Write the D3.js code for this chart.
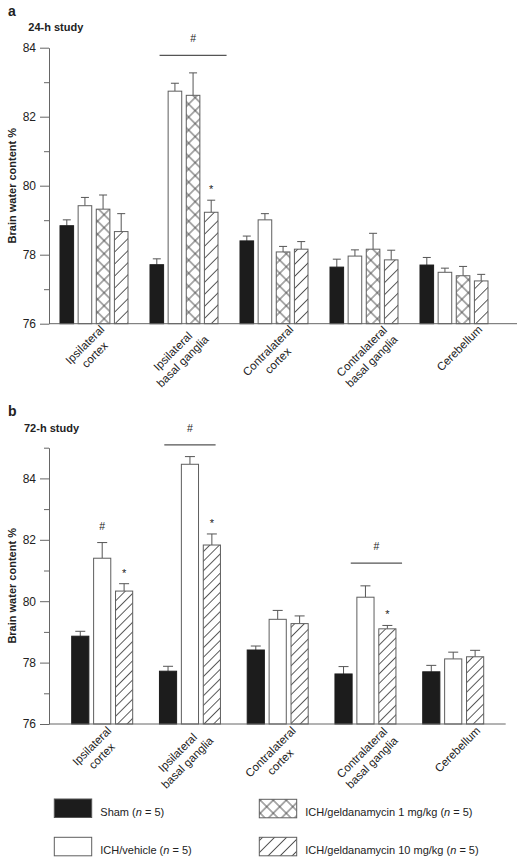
<!DOCTYPE html>
<html><head><meta charset="utf-8">
<script src="https://cdn.jsdelivr.net/npm/d3@7"></script>
<style>
body{margin:0;background:#fff;}
svg text{font-family:"Liberation Sans", Arial, Helvetica, sans-serif;fill:#222;}
</style></head><body>
<svg id="chart" width="525" height="864"></svg>
<script>
// ---------- data ----------
const categories = [["Ipsilateral","cortex"],["Ipsilateral","basal ganglia"],["Contralateral","cortex"],["Contralateral","basal ganglia"],["Cerebellum"]];
const seriesKeys = ["sham","vehicle","gel1","gel10"];
const seriesNames = ["Sham","ICH/vehicle","ICH/geldanamycin 1 mg/kg","ICH/geldanamycin 10 mg/kg"];
const seriesN = [5,5,5,5];

// 24-h study (panel a)
const sham24     = [78.84, 77.71, 78.40, 77.64, 77.70];
const vehicle24  = [79.42, 82.74, 79.01, 77.96, 77.49];
const gel1_24    = [79.32, 82.62, 78.08, 78.16, 77.39];
const gel10_24   = [78.67, 79.23, 78.16, 77.85, 77.24];
const shamErr24    = [0.17, 0.17, 0.14, 0.23, 0.22];
const vehicleErr24 = [0.24, 0.23, 0.18, 0.18, 0.12];
const gel1Err24    = [0.41, 0.65, 0.16, 0.46, 0.27];
const gel10Err24   = [0.52, 0.35, 0.22, 0.28, 0.19];

// 72-h study (panel b)
const sham72     = [78.86, 77.72, 78.41, 77.63, 77.70];
const vehicle72  = [81.40, 84.46, 79.41, 80.13, 78.12];
const gel10_72   = [80.33, 81.83, 79.27, 79.10, 78.19];
const shamErr72    = [0.16, 0.16, 0.13, 0.24, 0.21];
const vehicleErr72 = [0.51, 0.25, 0.29, 0.37, 0.22];
const gel10Err72   = [0.24, 0.36, 0.25, 0.11, 0.21];

const yMajor24 = [76, 78, 80, 82, 84];
const yMinor24 = [77, 79, 81, 83];
const yMajor72 = [76, 78, 80, 82, 84];
const yMinor72 = [77, 79, 81, 83, 85];

// significance symbols
const marks24 = [{group:1, series:"gel10", symbol:"*"}];
const brackets24 = [{group:1, from:"vehicle", to:"gel10", level:83.78, symbol:"#"}];
const marks72 = [
  {group:0, series:"vehicle", symbol:"#"},
  {group:0, series:"gel10", symbol:"*"},
  {group:1, series:"gel10", symbol:"*"},
  {group:3, series:"gel10", symbol:"*"}
];
const brackets72 = [
  {group:1, from:"sham", to:"gel10", level:85.09, symbol:"#"},
  {group:3, from:"vehicle", to:"gel10", level:81.24, symbol:"#"}
];

// ---------- drawing ----------
const svg = d3.select("#chart");
const AX = "#666", BAR_STROKE = "#5e5e5e", BLACK = "#1c1c1c";
const defs = svg.append("defs");

function hatchPattern(id, s, cross){
  const p = defs.append("pattern").attr("id", id)
    .attr("patternUnits","userSpaceOnUse").attr("width", s).attr("height", s)
    .attr("patternTransform","rotate(45)");
  p.append("rect").attr("width", s).attr("height", s).attr("fill","#fff");
  p.append("line").attr("x1", s/2).attr("x2", s/2).attr("y1", 0).attr("y2", s)
    .attr("stroke","#4a4a4a").attr("stroke-width",0.9);
  if (cross) p.append("line").attr("y1", s/2).attr("y2", s/2).attr("x1", 0).attr("x2", s)
    .attr("stroke","#4a4a4a").attr("stroke-width",0.9);
}
hatchPattern("cross", 9.2, true);
hatchPattern("hatchA", 8.5, false);
hatchPattern("hatchB", 6.8, false);
hatchPattern("hatchL", 8.5, false);
hatchPattern("crossL", 9.2, true);

function fillFor(key, hatchId, crossId){
  if (key === "sham") return BLACK;
  if (key === "vehicle") return "#fff";
  if (key === "gel1") return `url(#${crossId})`;
  return `url(#${hatchId})`;
}

function drawPanel(cfg){
  const g = svg.append("g");
  const y = d3.scaleLinear().domain(cfg.yDomain).range(cfg.yRange);
  const xG = d3.scaleBand().domain(d3.range(categories.length)).range(cfg.groupRange)
    .paddingInner(cfg.groupPad).paddingOuter(0);
  const xS = d3.scaleBand().domain(cfg.keys).range([0, xG.bandwidth()]).paddingInner(cfg.innerPad).paddingOuter(0);
  const rows = [];
  cfg.keys.forEach((k, si) => {
    cfg.means[si].forEach((v, gi) => rows.push({key:k, group:gi, value:v, err:cfg.errs[si][gi]}));
  });
  const bx = d => xG(d.group) + xS(d.key);
  const bw = xS.bandwidth();

  // error bars (drawn behind bars' tops)
  const eg = g.append("g").attr("stroke","#555").attr("stroke-width",1);
  eg.selectAll("line.v").data(rows).join("line")
    .attr("x1", d => bx(d) + bw/2).attr("x2", d => bx(d) + bw/2)
    .attr("y1", d => y(d.value)).attr("y2", d => y(d.value + d.err));
  eg.selectAll("line.c").data(rows).join("line")
    .attr("x1", d => bx(d) + bw/2 - cfg.capW/2).attr("x2", d => bx(d) + bw/2 + cfg.capW/2)
    .attr("y1", d => y(d.value + d.err)).attr("y2", d => y(d.value + d.err));

  // bars
  g.append("g").selectAll("rect").data(rows).join("rect")
    .attr("x", bx).attr("width", bw)
    .attr("y", d => y(d.value)).attr("height", d => y(cfg.yDomain[0]) - y(d.value))
    .attr("fill", d => fillFor(d.key, cfg.hatchId, "cross"))
    .attr("stroke", d => d.key === "sham" ? BLACK : BAR_STROKE).attr("stroke-width", 1);

  // y axis
  const ya = g.append("g").attr("transform", `translate(${cfg.axisX},0)`)
    .call(d3.axisLeft(y).tickValues(cfg.yMajor).tickSize(9).tickSizeOuter(0).tickPadding(4).tickFormat(d3.format("d")));
  ya.select(".domain").attr("stroke", AX);
  ya.selectAll(".tick line").attr("stroke", AX);
  ya.selectAll(".tick text").attr("font-size", 12).attr("fill", "#333")
    .attr("font-family", '"Liberation Sans", Arial, sans-serif');
  const ym = g.append("g").attr("transform", `translate(${cfg.axisX},0)`)
    .call(d3.axisLeft(y).tickValues(cfg.yMinor).tickSize(5).tickSizeOuter(0).tickFormat(""));
  ym.select(".domain").remove();
  ym.selectAll(".tick line").attr("stroke", AX);

  // x axis baseline
  g.append("line").attr("x1", cfg.axisX).attr("x2", cfg.axisEnd)
    .attr("y1", y(cfg.yDomain[0])).attr("y2", y(cfg.yDomain[0]))
    .attr("stroke", AX).attr("stroke-width", 1);

  // x labels (rotated, centred multi-line)
  const xl = d3.scalePoint().domain(d3.range(categories.length)).range(cfg.labelRange);
  categories.forEach((lines, i) => {
    const lab = g.append("g")
      .attr("transform", `translate(${xl(i)},${y(cfg.yDomain[0]) + cfg.labelDy}) rotate(-45)`);
    const ts = lines.map((t, j) => lab.append("text").attr("y", j * 14)
      .attr("text-anchor", "middle").attr("font-size", 11.5).attr("fill","#333").text(t));
    const W = d3.max(ts, t => t.node().getComputedTextLength());
    ts.forEach(t => t.attr("x", -W / 2));
  });

  // significance marks
  cfg.marks.forEach(m => {
    const si = cfg.keys.indexOf(m.series);
    const v = cfg.means[si][m.group] + cfg.errs[si][m.group];
    const isStar = m.symbol === "*";
    g.append("text").attr("x", xG(m.group) + xS(m.series) + bw/2)
      .attr("y", y(v) - (isStar ? 7 : 13))
      .attr("text-anchor","middle").attr("font-size", isStar ? 11 : 10.5).attr("fill","#333").text(m.symbol);
  });
  cfg.brackets.forEach(b => {
    const x0 = xG(b.group) + xS(b.from), x1 = xG(b.group) + xS(b.to) + bw;
    const cx = (x0 + x1) / 2;
    g.append("line").attr("x1", cx - cfg.bracketW/2).attr("x2", cx + cfg.bracketW/2)
      .attr("y1", y(b.level)).attr("y2", y(b.level)).attr("stroke", "#555").attr("stroke-width", 1.2);
    g.append("text").attr("x", cx).attr("y", y(b.level) - 13).attr("text-anchor","middle")
      .attr("font-size", 10.5).attr("fill","#333").text(b.symbol);
  });

  // titles
  svg.append("text").attr("x", 8).attr("y", cfg.letterY).attr("font-size", 14).attr("font-weight","bold")
    .attr("fill","#111").text(cfg.letter);
  svg.append("text").attr("x", cfg.titleX).attr("y", cfg.titleY).attr("font-size", 11).attr("font-weight","bold")
    .attr("fill","#111").text(cfg.title);
  const cy = (cfg.yRange[0] + cfg.yRange[1]) / 2;
  svg.append("text").attr("transform", `translate(15.5,${cy}) rotate(-90)`).attr("text-anchor","middle")
    .attr("font-size", 11).attr("font-weight","bold").attr("fill","#111").text("Brain water content %");
}

drawPanel({
  keys: ["sham","vehicle","gel1","gel10"],
  means: [sham24, vehicle24, gel1_24, gel10_24],
  errs: [shamErr24, vehicleErr24, gel1Err24, gel10Err24],
  yDomain: [76, 84], yRange: [323.7, 47.7], yMajor: yMajor24, yMinor: yMinor24,
  groupRange: [60, 488], groupPad: 0.2444, innerPad: 0.25, capW: 8,
  axisX: 49, axisEnd: 517, hatchId: "hatchA",
  labelRange: [105, 483], labelDy: 6.5,
  marks: marks24, brackets: brackets24, bracketW: 67,
  letter: "a", letterY: 15.5, title: "24-h study", titleX: 28.3, titleY: 31.2
});

drawPanel({
  keys: ["sham","vehicle","gel10"],
  means: [sham72, vehicle72, gel10_72],
  errs: [shamErr72, vehicleErr72, gel10Err72],
  yDomain: [76, 85], yRange: [724, 447.7], yMajor: yMajor72, yMinor: yMinor72,
  groupRange: [71.7, 483.7], groupPad: 0.305, innerPad: 0.217, capW: 10,
  axisX: 49, axisEnd: 505.7, hatchId: "hatchB",
  labelRange: [112, 481], labelDy: 7.5,
  marks: marks72, brackets: brackets72, bracketW: 51.3,
  letter: "b", letterY: 415.7, title: "72-h study", titleX: 24, titleY: 432
});

// ---------- legend ----------
const legendPos = [[54.3, 799], [54.3, 837.3], [259.3, 799.3], [259.3, 837.3]];
const lg = svg.append("g");
seriesKeys.forEach((k, i) => {
  const [lx, ly] = legendPos[i];
  lg.append("rect").attr("x", lx).attr("y", ly).attr("width", 37.4).attr("height", 18.5)
    .attr("fill", fillFor(k, "hatchL", "crossL"))
    .attr("stroke", k === "sham" ? "#555" : BAR_STROKE).attr("stroke-width", 1);
  const t = lg.append("text").attr("x", lx + 46).attr("y", ly + 16.5).attr("font-size", 11).attr("fill","#222");
  t.append("tspan").text(seriesNames[i] + " (");
  t.append("tspan").attr("font-style","italic").text("n");
  t.append("tspan").text(" = " + seriesN[i] + ")");
});
</script>
</body></html>
